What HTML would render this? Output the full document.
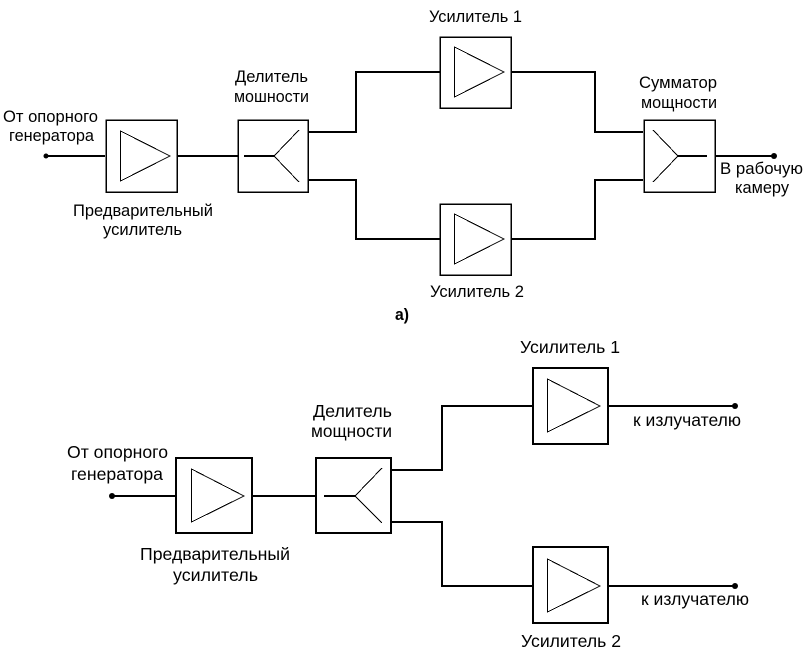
<!DOCTYPE html>
<html><head><meta charset="utf-8"><style>
html,body{margin:0;padding:0;background:#fff}
svg{display:block}
text{font-family:"Liberation Sans",Arial,sans-serif;fill:#000;font-size:16.5px}
.b text{font-size:17.5px}
.t{fill:none;stroke:#000;stroke-width:1}
.m{fill:none;stroke:#000;stroke-width:2}
.x{fill:#fff;stroke:#000;stroke-width:2}
.y{fill:#fff;stroke:#000;stroke-width:1.5}
</style></head><body>
<svg width="807" height="654" viewBox="0 0 807 654" xmlns="http://www.w3.org/2000/svg">
<rect width="807" height="654" fill="#fff"/>
<g shape-rendering="crispEdges">
<!-- top -->
<path class="m" d="M45 156H105M177 156H238M308 132H356V72H440M308 180H356V239H440M511 72H595V132H643M511 239H595V180H643M715 156H774"/>
<rect class="y" x="106" y="120" width="71" height="72"/>
<rect class="y" x="238" y="120" width="70" height="72"/>
<rect class="y" x="440" y="37" width="71" height="71"/>
<rect class="y" x="440" y="204" width="71" height="71"/>
<rect class="y" x="644" y="120" width="71" height="72"/>
<path class="t" d="M120.500 131L170 156L120.500 181Z"/>
<path class="t" d="M454.500 47L504 72L454.500 97Z"/>
<path class="t" d="M454.500 214L504 239L454.500 264Z"/>
<path class="m" d="M244 156H274M678 156H707"/>
<path class="t" d="M274 156L299 130M274 156L299 182M653 130L678 156L653 182"/>
<!-- bottom -->
<path class="m" d="M112 496H176M252 496H316M391 470H442V406H532M391 522H442V586H532M608 406H735M608 586H735"/>
<rect class="x" x="176" y="458" width="76" height="75"/>
<rect class="x" x="316" y="458" width="75" height="75"/>
<rect class="x" x="533" y="368" width="75" height="76"/>
<rect class="x" x="533" y="547" width="75" height="76"/>
<path class="t" d="M191.500 469L244 496L191.500 522Z"/>
<path class="t" d="M547.500 379L600 406L547.500 432Z"/>
<path class="t" d="M547.500 559L600 586L547.500 612Z"/>
<path class="m" d="M324 496H355"/>
<path class="t" d="M355 496L382 468M355 496L382 523"/>
</g>
<circle cx="46" cy="156" r="2.500"/><circle cx="774" cy="156" r="3"/>
<circle cx="112" cy="496" r="3"/><circle cx="735" cy="406" r="3"/><circle cx="735" cy="586" r="3"/>
<g>
<text x="3" y="122" textLength="95" lengthAdjust="spacingAndGlyphs">От опорного</text>
<text x="9" y="141" textLength="85" lengthAdjust="spacingAndGlyphs">генератора</text>
<text x="235" y="82" textLength="73" lengthAdjust="spacingAndGlyphs">Делитель</text>
<text x="234" y="102" textLength="75" lengthAdjust="spacingAndGlyphs">мошности</text>
<text x="73" y="216" textLength="140" lengthAdjust="spacingAndGlyphs">Предварительный</text>
<text x="103" y="235" textLength="79" lengthAdjust="spacingAndGlyphs">усилитель</text>
<text x="429" y="22" textLength="93" lengthAdjust="spacingAndGlyphs">Усилитель 1</text>
<text x="430" y="297" textLength="94" lengthAdjust="spacingAndGlyphs">Усилитель 2</text>
<text x="639" y="88" textLength="78" lengthAdjust="spacingAndGlyphs">Сумматор</text>
<text x="641" y="108" textLength="76" lengthAdjust="spacingAndGlyphs">мощности</text>
<text x="720" y="174" textLength="83" lengthAdjust="spacingAndGlyphs">В рабочую</text>
<text x="735" y="193" textLength="54" lengthAdjust="spacingAndGlyphs">камеру</text>
<text x="395" y="320" font-weight="bold" textLength="14" lengthAdjust="spacingAndGlyphs">а)</text>
</g>
<g class="b">
<text x="67" y="458" textLength="101" lengthAdjust="spacingAndGlyphs">От опорного</text>
<text x="71" y="480" textLength="92" lengthAdjust="spacingAndGlyphs">генератора</text>
<text x="313" y="417" textLength="79" lengthAdjust="spacingAndGlyphs">Делитель</text>
<text x="311" y="437" textLength="81" lengthAdjust="spacingAndGlyphs">мощности</text>
<text x="140" y="560" textLength="150" lengthAdjust="spacingAndGlyphs">Предварительный</text>
<text x="173" y="581" textLength="85" lengthAdjust="spacingAndGlyphs">усилитель</text>
<text x="520" y="353" textLength="100" lengthAdjust="spacingAndGlyphs">Усилитель 1</text>
<text x="633" y="426" textLength="108" lengthAdjust="spacingAndGlyphs">к излучателю</text>
<text x="641" y="605" textLength="108" lengthAdjust="spacingAndGlyphs">к излучателю</text>
<text x="521" y="647" textLength="100" lengthAdjust="spacingAndGlyphs">Усилитель 2</text>
</g>
</svg>
</body></html>
